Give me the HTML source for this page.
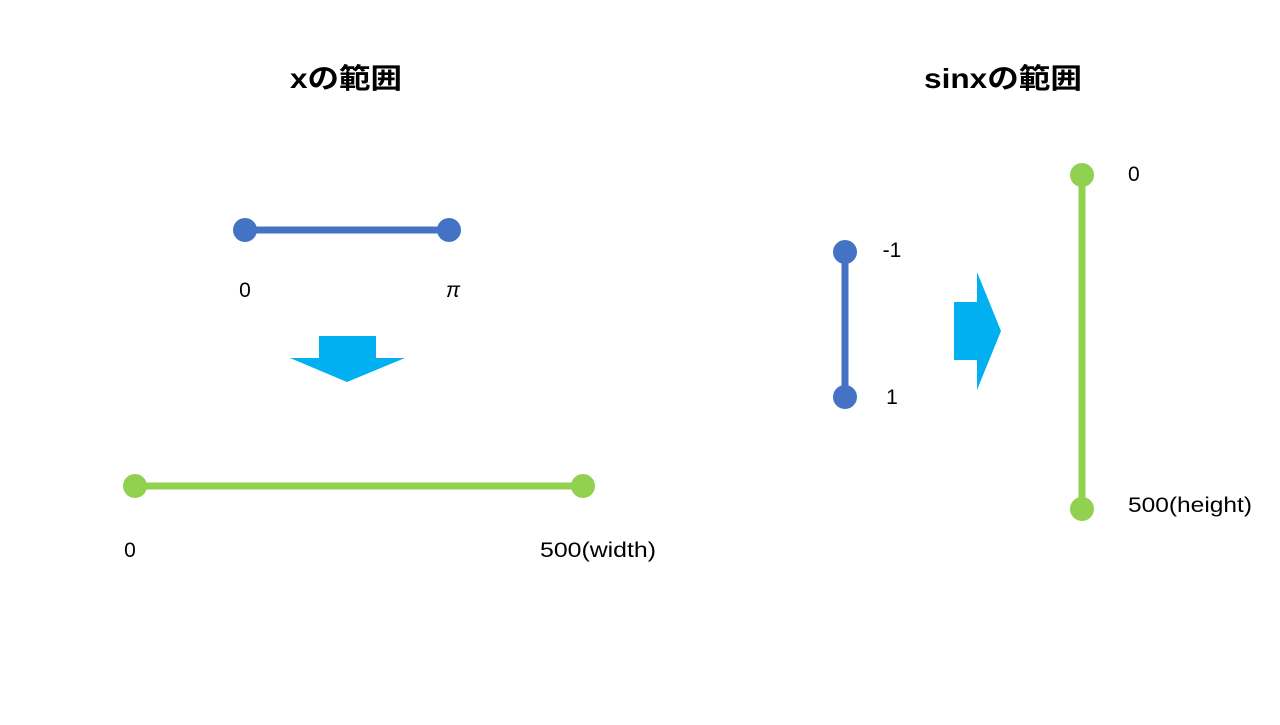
<!DOCTYPE html>
<html><head><meta charset="utf-8"><style>
html,body{margin:0;padding:0;background:#fff;}
svg text{font-family:"Liberation Sans","Noto Sans CJK JP",sans-serif;fill:#000;}
</style></head><body>
<svg width="1280" height="720" xmlns="http://www.w3.org/2000/svg">
<text x="290" y="88" font-size="28" font-weight="bold" textLength="112" lengthAdjust="spacingAndGlyphs">xの範囲</text>
<text x="924" y="88" font-size="28" font-weight="bold" textLength="158" lengthAdjust="spacingAndGlyphs">sinxの範囲</text>
<line x1="245" y1="230" x2="449" y2="230" stroke="#4472C4" stroke-width="7"/>
<circle cx="245" cy="230" r="12" fill="#4472C4"/>
<circle cx="449" cy="230" r="12" fill="#4472C4"/>
<text x="245" y="297" font-size="21" text-anchor="middle">0</text>
<text x="453" y="297" font-size="21" font-style="italic" text-anchor="middle">π</text>
<polygon points="319,336 376,336 376,358 405,358 347,382 290,358 319,358" fill="#00B0F0"/>
<line x1="135" y1="486" x2="583" y2="486" stroke="#92D050" stroke-width="7"/>
<circle cx="135" cy="486" r="12" fill="#92D050"/>
<circle cx="583" cy="486" r="12" fill="#92D050"/>
<text x="130" y="557" font-size="21" text-anchor="middle">0</text>
<text x="540" y="557" font-size="21" textLength="116" lengthAdjust="spacingAndGlyphs">500(width)</text>
<line x1="845" y1="252" x2="845" y2="397" stroke="#4472C4" stroke-width="7"/>
<circle cx="845" cy="252" r="12" fill="#4472C4"/>
<circle cx="845" cy="397" r="12" fill="#4472C4"/>
<text x="892" y="257" font-size="21" text-anchor="middle">-1</text>
<text x="892" y="404" font-size="21" text-anchor="middle">1</text>
<polygon points="954,302 977,302 977,272 1001,331 977,390 977,360 954,360" fill="#00B0F0"/>
<line x1="1082" y1="175" x2="1082" y2="509" stroke="#92D050" stroke-width="7"/>
<circle cx="1082" cy="175" r="12" fill="#92D050"/>
<circle cx="1082" cy="509" r="12" fill="#92D050"/>
<text x="1128" y="181" font-size="21">0</text>
<text x="1128" y="512" font-size="21" textLength="124" lengthAdjust="spacingAndGlyphs">500(height)</text>
</svg>
</body></html>
